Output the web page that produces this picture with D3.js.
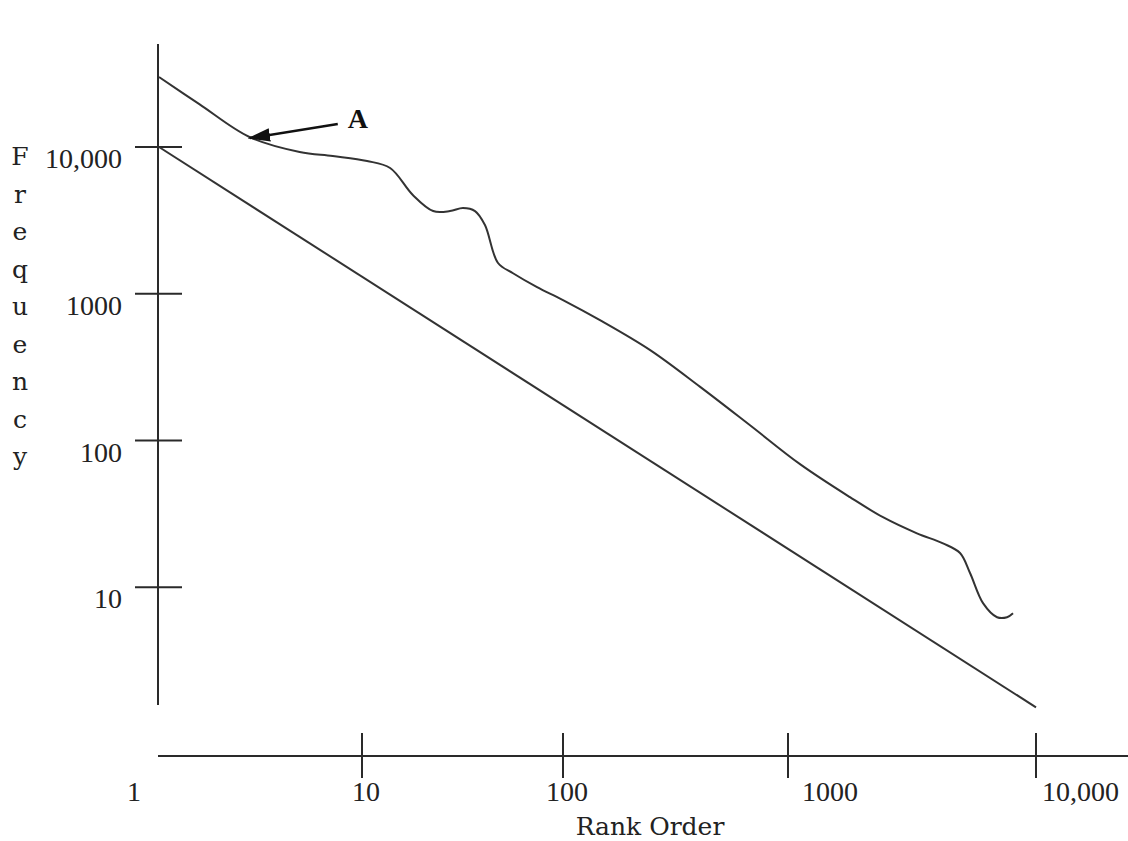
<!DOCTYPE html>
<html>
<head>
<meta charset="utf-8">
<script src="https://cdn.jsdelivr.net/npm/d3@7"></script>
<style>
  html, body { margin: 0; padding: 0; background: #ffffff; }
  svg { display: block; }
</style>
</head>
<body>
<svg id="chart" width="1128" height="841"></svg>
<script>
// ---- data ----
const curveRanks = [1, 1.58, 2.79, 4.93, 7.18, 10.6, 13.8, 17.9, 22.6, 27.4, 31.8, 36.5, 40.9, 47.5, 56.4, 74.3, 100, 146, 244, 407, 678, 1118, 1778, 2415, 3311, 4217, 4939, 5420, 6115, 6966, 7644, 8079];
const curveFreqs = [30000, 19600, 11700, 9250, 8680, 8030, 7190, 4710, 3660, 3660, 3840, 3660, 2940, 1620, 1380, 1110, 906, 661, 413, 232, 127, 69, 41.1, 30, 23.3, 19.9, 17.1, 12.5, 7.79, 6.25, 6.25, 6.65];
const zipfRanks = [1, 10000];
const zipfFreqs = [10000, 1.52];
const xTickValues = [1, 10, 100, 1000, 10000];
const xTickLabels = ["1", "10", "100", "1000", "10,000"];
const yTickValues = [10, 100, 1000, 10000];
const yTickLabels = ["10", "100", "1000", "10,000"];
const yTitle = "Frequency";
const xTitle = "Rank Order";
const annotationLabel = "A";
const annotationRank = 2.8;
const annotationFreq = 11500;

// ---- scales ----
const svg = d3.select("#chart");
const x = d3.scaleLog().domain(xTickValues).range([159, 362, 563, 788, 1036]);
const y = d3.scaleLog().domain([1, 10000]).range([734, 147]);

const ink = "#2a2a2a";
const numFont = "'Liberation Serif', serif";
const titleFont = "'DejaVu Serif', serif";

// ---- axes ----
const axX = 158, axTop = 44, axBottom = 705;
const axY = 756;
svg.append("line").attr("x1", axX).attr("x2", axX).attr("y1", axTop).attr("y2", axBottom)
  .attr("stroke", ink).attr("stroke-width", 2);
svg.append("line").attr("x1", 158).attr("x2", 1128).attr("y1", axY).attr("y2", axY)
  .attr("stroke", ink).attr("stroke-width", 2);

// y ticks
yTickValues.forEach((v, i) => {
  const ty = y(v);
  svg.append("line").attr("x1", 135).attr("x2", 182).attr("y1", ty).attr("y2", ty)
    .attr("stroke", ink).attr("stroke-width", 2);
  svg.append("text").attr("x", 122).attr("y", ty + 21)
    .attr("text-anchor", "end").attr("font-family", numFont).attr("font-size", 28)
    .attr("fill", "#222").text(yTickLabels[i]);
});

// x ticks
xTickValues.forEach((v, i) => {
  const tx = x(v);
  if (i > 0) {
    svg.append("line").attr("x1", tx).attr("x2", tx).attr("y1", 733).attr("y2", 778)
      .attr("stroke", ink).attr("stroke-width", 2);
  }
  const t = svg.append("text").attr("y", 801)
    .attr("font-family", numFont).attr("font-size", 28).attr("fill", "#222")
    .text(xTickLabels[i]);
  if (i === 0) t.attr("x", tx - 25).attr("text-anchor", "middle");
  else if (i < 3) t.attr("x", tx + 4).attr("text-anchor", "middle");
  else t.attr("x", tx + (i === 3 ? 14 : 6)).attr("text-anchor", "start");
});

// titles
svg.append("text").attr("x", 650).attr("y", 835).attr("text-anchor", "middle")
  .attr("font-family", titleFont).attr("font-size", 25).attr("fill", "#222").text(xTitle);
yTitle.split("").forEach((ch, i) => {
  svg.append("text").attr("x", 20).attr("y", 165 + i * 37.5).attr("text-anchor", "middle")
    .attr("font-family", titleFont).attr("font-size", 25).attr("fill", "#222").text(ch);
});

// ---- lines ----
const zipfData = zipfRanks.map((r, i) => [r, zipfFreqs[i]]);
svg.append("path").datum(zipfData)
  .attr("d", d3.line().x(d => x(d[0])).y(d => y(d[1])))
  .attr("fill", "none").attr("stroke", "#333").attr("stroke-width", 2);

const curveData = curveRanks.map((r, i) => [r, curveFreqs[i]]);
svg.append("path").datum(curveData)
  .attr("d", d3.line().x(d => x(d[0])).y(d => y(d[1])).curve(d3.curveCatmullRom.alpha(0.5)))
  .attr("fill", "none").attr("stroke", "#333").attr("stroke-width", 2);

// ---- annotation arrow ----
const defs = svg.append("defs");
defs.append("marker").attr("id", "arrowhead").attr("viewBox", "0 0 10 6")
  .attr("refX", 9).attr("refY", 3).attr("markerWidth", 9).attr("markerHeight", 5.4)
  .attr("markerUnits", "strokeWidth").attr("orient", "auto")
  .append("path").attr("d", "M0,0 L10,3 L0,6 Z").attr("fill", "#111");
const tipX = x(annotationRank), tipY = y(annotationFreq);
svg.append("line").attr("x1", tipX + 88).attr("y1", tipY - 14).attr("x2", tipX).attr("y2", tipY)
  .attr("stroke", "#111").attr("stroke-width", 2.5).attr("marker-end", "url(#arrowhead)");
svg.append("text").attr("x", tipX + 98).attr("y", tipY - 10)
  .attr("font-family", numFont).attr("font-weight", "bold").attr("font-size", 28)
  .attr("fill", "#111").text(annotationLabel);
</script>
</body>
</html>
